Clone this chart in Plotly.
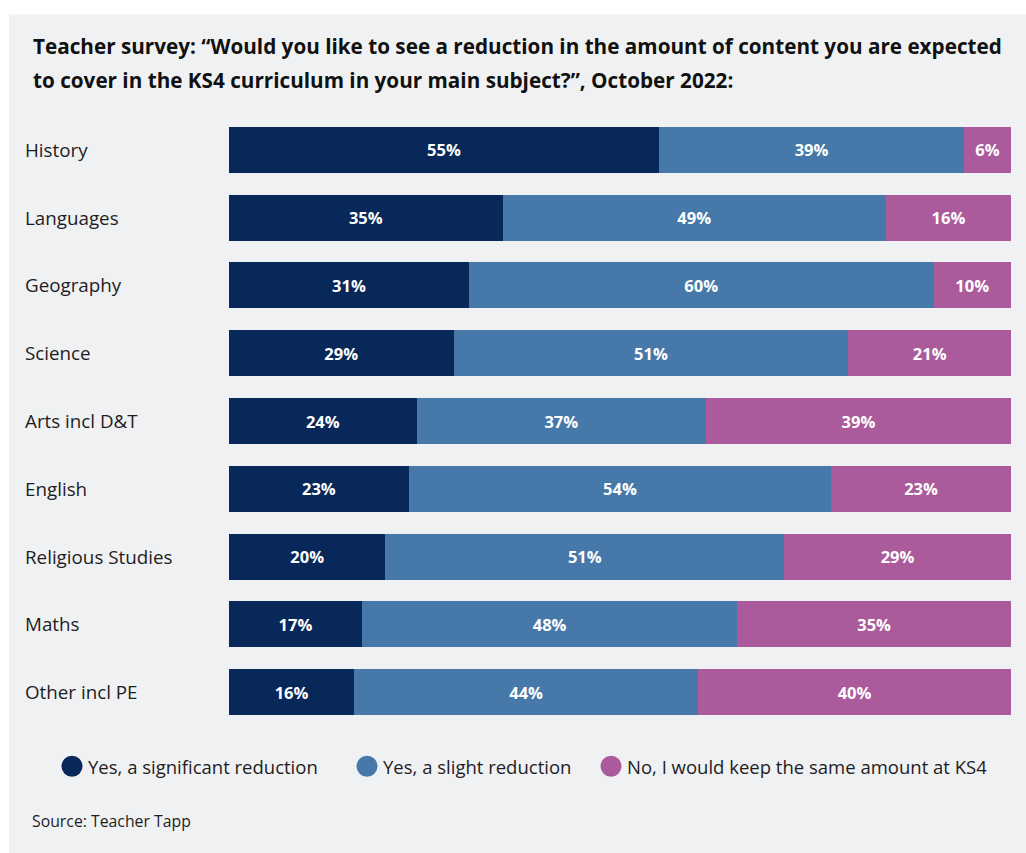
import plotly.graph_objects as go

categories = ["History", "Languages", "Geography", "Science", "Arts incl D&T",
              "English", "Religious Studies", "Maths", "Other incl PE"]
significant = [55, 35, 31, 29, 24, 23, 20, 17, 16]
slight = [39, 49, 60, 51, 37, 54, 51, 48, 44]
no_change = [6, 16, 10, 21, 39, 23, 29, 35, 40]
series_names = ["Yes, a significant reduction", "Yes, a slight reduction",
                "No, I would keep the same amount at KS4"]
colors = ["#08285a", "#4679aa", "#ab5a9b"]
title_lines = ["Teacher survey: \u201cWould you like to see a reduction in the amount of content you are expected",
               "to cover in the KS4 curriculum in your main subject?\u201d, October 2022:"]
source = "Source: Teacher Tapp"

W, H = 1026, 853
L, R = 229, 1011
PITCH = 67.7
T = 150.3 - PITCH / 2
B = T + 9 * PITCH
FONT = "Open Sans"
TXT = "#1f1d1e"


def px(x):
    return (x - L) / (R - L)


def py(y):
    return (B - y) / (B - T)


fig = go.Figure()
for name, vals, col in zip(series_names, [significant, slight, no_change], colors):
    fig.add_trace(go.Bar(
        y=categories, x=vals, name=name, orientation="h",
        marker=dict(color=col, line=dict(width=0)),
        text=[f"{v}%" for v in vals], textposition="inside",
        insidetextanchor="middle", textangle=0,
        textfont=dict(color="white", size=16.5, family=FONT, weight="bold"),
        showlegend=False, hoverinfo="skip",
    ))

shapes = [dict(type="rect", xref="paper", yref="paper", x0=px(9), x1=px(1026),
               y0=py(15), y1=py(853), fillcolor="#f0f1f3", line=dict(width=0), layer="below")]
annotations = []
for i, line in enumerate(title_lines):
    annotations.append(dict(text=f"<b>{line}</b>", xref="paper", yref="paper",
                            x=px(31), y=py(47 + 33 * i), xanchor="left", yanchor="middle",
                            showarrow=False, font=dict(size=20.7, color="#111111", family=FONT)))
for c in categories:
    annotations.append(dict(text=c, xref="paper", yref="y", x=px(23), y=c,
                            xanchor="left", yanchor="middle", showarrow=False,
                            font=dict(size=18.8, color=TXT, family=FONT)))
leg_x = [72, 367, 611]
for name, col, cx in zip(series_names, colors, leg_x):
    r = 10.5
    shapes.append(dict(type="circle", xref="paper", yref="paper",
                       x0=px(cx - r), x1=px(cx + r), y0=py(766 + r), y1=py(766 - r),
                       fillcolor=col, line=dict(width=0)))
    annotations.append(dict(text=name, xref="paper", yref="paper", x=px(cx + 14), y=py(766),
                            xanchor="left", yanchor="middle", showarrow=False,
                            font=dict(size=18.5, color=TXT, family=FONT)))
annotations.append(dict(text=source, xref="paper", yref="paper", x=px(30), y=py(821),
                        xanchor="left", yanchor="middle", showarrow=False,
                        font=dict(size=15.8, color=TXT, family=FONT)))

fig.update_layout(
    width=W, height=H, barmode="stack", barnorm="percent",
    bargap=1 - 46 / PITCH,
    margin=dict(l=L, r=W - R, t=T, b=H - B, pad=0),
    paper_bgcolor="white", plot_bgcolor="rgba(0,0,0,0)",
    xaxis=dict(range=[0, 100], visible=False, fixedrange=True),
    yaxis=dict(categoryorder="array", categoryarray=categories[::-1],
               showticklabels=False, showgrid=False, zeroline=False, fixedrange=True),
    shapes=shapes, annotations=annotations, showlegend=False,
    font=dict(family=FONT),
)
fig.write_html("out.html", config={"displayModeBar": False})
